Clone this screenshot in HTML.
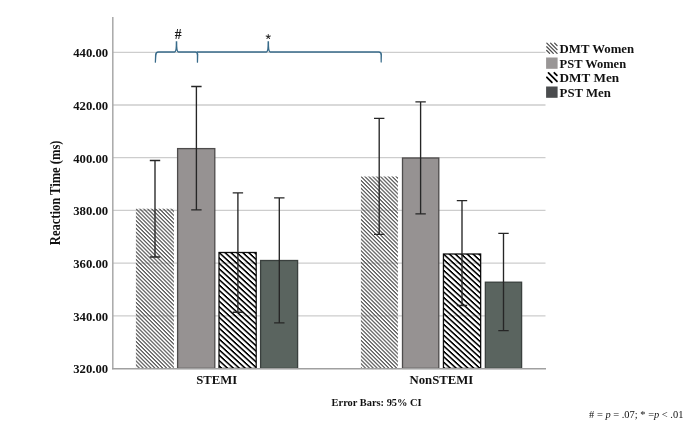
<!DOCTYPE html>
<html><head><meta charset="utf-8"><style>
html,body{margin:0;padding:0;background:#fff;}
svg{display:block;will-change:transform;filter:blur(0.4px);}
text{font-family:"Liberation Serif",serif;}
</style></head><body>
<svg width="685" height="424" viewBox="0 0 685 424">
<defs>
<pattern id="hw" patternUnits="userSpaceOnUse" width="10" height="10" patternTransform="matrix(0.3900,0.3900,0,0.3900,136.00,207.93)">
<rect x="0" y="0" width="10" height="4.50" fill="#5e5e5e"/>
</pattern>
<pattern id="hw2" patternUnits="userSpaceOnUse" width="10" height="10" patternTransform="matrix(0.3900,0.3900,0,0.3900,361.20,175.83)">
<rect x="0" y="0" width="10" height="4.50" fill="#5e5e5e"/>
</pattern>
<pattern id="hm" patternUnits="userSpaceOnUse" width="10" height="10" patternTransform="matrix(0.5900,0.5400,0,0.5400,219.10,251.47)">
<rect x="0" y="0" width="10" height="4.00" fill="#000"/>
</pattern>
<pattern id="hm2" patternUnits="userSpaceOnUse" width="10" height="10" patternTransform="matrix(0.5900,0.5400,0,0.5400,443.30,252.77)">
<rect x="0" y="0" width="10" height="4.00" fill="#000"/>
</pattern>
</defs>
<!-- gridlines -->
<g stroke="#cdcdcd" stroke-width="1.3">
<line x1="113" y1="52.3" x2="545.5" y2="52.3"/>
<line x1="113" y1="105" x2="545.5" y2="105"/>
<line x1="113" y1="157.7" x2="545.5" y2="157.7"/>
<line x1="113" y1="210.4" x2="545.5" y2="210.4"/>
<line x1="113" y1="263.2" x2="545.5" y2="263.2"/>
<line x1="113" y1="315.9" x2="545.5" y2="315.9"/>
</g>
<!-- bars STEMI -->
<rect x="135.9" y="208.7" width="38.0" height="159.9" fill="url(#hw)"/>
<rect x="177.6" y="148.6" width="37.2" height="219.8" fill="#969292" stroke="#4e4c4c" stroke-width="1.3"/>
<rect x="219.0" y="252.5" width="37.2" height="115.9" fill="none" stroke="#111" stroke-width="1.3"/>
<rect x="219.0" y="252.5" width="37.2" height="115.9" fill="url(#hm)"/>
<rect x="260.6" y="260.5" width="37.0" height="107.9" fill="#5a645f" stroke="#3a403e" stroke-width="1.3"/>
<!-- bars NonSTEMI -->
<rect x="360.9" y="176.5" width="37.0" height="192.1" fill="url(#hw2)"/>
<rect x="402.5" y="158.0" width="36.3" height="210.4" fill="#969292" stroke="#4e4c4c" stroke-width="1.3"/>
<rect x="443.45" y="254.0" width="37.2" height="114.4" fill="none" stroke="#111" stroke-width="1.3"/>
<rect x="443.45" y="254.0" width="37.2" height="114.4" fill="url(#hm2)"/>
<rect x="485.35" y="282.2" width="36.25" height="86.2" fill="#5a645f" stroke="#3a403e" stroke-width="1.3"/>
<!-- error bars -->
<g stroke="#262626" stroke-width="1.35" fill="none">
<path d="M155 160.5V257M149.8 160.5H160.2M149.8 257H160.2"/>
<path d="M196.4 86.5V209.9M191.2 86.5H201.6M191.2 209.9H201.6"/>
<path d="M237.9 192.8V312.2M232.7 192.8H243.1M232.7 312.2H243.1"/>
<path d="M279.3 197.9V322.9M274.1 197.9H284.5M274.1 322.9H284.5"/>
<path d="M379.2 118.3V234.4M374 118.3H384.4M374 234.4H384.4"/>
<path d="M420.6 101.8V213.9M415.4 101.8H425.8M415.4 213.9H425.8"/>
<path d="M462 200.6V305.5M456.8 200.6H467.2M456.8 305.5H467.2"/>
<path d="M503.5 233.4V330.6M498.3 233.4H508.7M498.3 330.6H508.7"/>
</g>
<!-- axes -->
<line x1="112.8" y1="17" x2="112.8" y2="369.3" stroke="#a8a8a8" stroke-width="1.5"/>
<line x1="112" y1="368.7" x2="546" y2="368.7" stroke="#a0a0a0" stroke-width="1.5"/>
<!-- brackets -->
<g stroke="#386b8a" stroke-width="1.5" fill="none">
<path d="M155.75 55 Q155.9 52 158.4 52 L174.6 52 Q176.5 52 176.5 41.3 Q176.5 52 178.4 52 L195.4 52 Q197.55 52 197.55 55"/>
<path d="M197 52 L266.4 52 Q268.3 52 268.3 41.3 Q268.3 52 270.2 52 L378.8 52 Q381.25 52 381.25 55"/>
</g>
<g fill="#386b8a">
<path d="M155.0 54.8 L156.5 54.8 L155.95 62.4 Q155.35 63.1 154.75 62.4 Z"/>
<path d="M196.8 54.8 L198.3 54.8 L198.05 62.5 Q197.45 63.2 196.85 62.5 Z"/>
<path d="M380.5 54.8 L382.0 54.8 L381.75 62.3 Q381.15 63.0 380.55 62.3 Z"/>
</g>
<!-- bracket labels -->
<text x="178.1" y="38.5" font-size="13.6" font-weight="bold" text-anchor="middle" fill="#1a1a1a">#</text>
<path d="M268.25 36.7l0 -2.2M268.25 36.7l2.09 -0.68M268.25 36.7l1.29 1.78M268.25 36.7l-1.29 1.78M268.25 36.7l-2.09 -0.68" stroke="#2a2a2a" stroke-width="1.05" stroke-linecap="round" fill="none"/>
<!-- y tick labels -->
<g font-size="13.1" font-weight="bold" text-anchor="end" fill="#111">
<text x="108.2" y="57.1" textLength="35" lengthAdjust="spacingAndGlyphs">440.00</text>
<text x="108.2" y="109.8" textLength="35" lengthAdjust="spacingAndGlyphs">420.00</text>
<text x="108.2" y="162.5" textLength="35" lengthAdjust="spacingAndGlyphs">400.00</text>
<text x="108.2" y="215.2" textLength="35" lengthAdjust="spacingAndGlyphs">380.00</text>
<text x="108.2" y="268.0" textLength="35" lengthAdjust="spacingAndGlyphs">360.00</text>
<text x="108.2" y="320.7" textLength="35" lengthAdjust="spacingAndGlyphs">340.00</text>
<text x="108.2" y="373.4" textLength="35" lengthAdjust="spacingAndGlyphs">320.00</text>
</g>
<!-- y axis title -->
<text transform="translate(60.0,192.85) rotate(-90)" font-size="14" font-weight="bold" text-anchor="middle" fill="#111" textLength="104.6" lengthAdjust="spacingAndGlyphs">Reaction Time (ms)</text>
<!-- x labels -->
<text x="216.7" y="384.2" font-size="12.8" font-weight="bold" text-anchor="middle" fill="#111" textLength="41" lengthAdjust="spacingAndGlyphs">STEMI</text>
<text x="441.4" y="384.3" font-size="12.8" font-weight="bold" text-anchor="middle" fill="#111" textLength="63.9" lengthAdjust="spacingAndGlyphs">NonSTEMI</text>
<text x="331.6" y="405.9" font-size="10.4" font-weight="bold" fill="#111" textLength="90" lengthAdjust="spacingAndGlyphs">Error Bars: 95% CI</text>
<!-- legend -->
<path d="M546.8 43.1L557.1 53.4M550.6 43.1L557.1 49.6M554.6 43.1L557.1 45.6M546.7 46.8L553.3 53.4M546.7 50.5L549.6 53.4" stroke="#4a4a4a" stroke-width="1.25" stroke-linecap="round" fill="none"/>
<rect x="546.1" y="57.5" width="11.5" height="11.3" fill="#999696"/>
<path d="M546.9 77.3L551.9 82.3M548.5 72.9L557.0 81.4M554.3 72.8L556.9 75.4" stroke="#000" stroke-width="1.75" stroke-linecap="round" fill="none"/>
<rect x="546.1" y="86.5" width="11.5" height="11.3" fill="#4a4c4e"/>
<g font-size="12.5" font-weight="bold" fill="#111">
<text x="559.6" y="52.7" textLength="74.5" lengthAdjust="spacingAndGlyphs">DMT Women</text>
<text x="559.6" y="67.5" textLength="66.5" lengthAdjust="spacingAndGlyphs">PST Women</text>
<text x="559.6" y="82.4" textLength="59.5" lengthAdjust="spacingAndGlyphs">DMT Men</text>
<text x="559.6" y="97.0" textLength="51.3" lengthAdjust="spacingAndGlyphs">PST Men</text>
</g>
<!-- footnote -->
<text x="589.1" y="418.0" font-size="10" fill="#111" textLength="94.3" lengthAdjust="spacingAndGlyphs"># = <tspan font-style="italic">p</tspan> = .07; * =<tspan font-style="italic">p</tspan> &lt; .01</text>
</svg>
</body></html>
